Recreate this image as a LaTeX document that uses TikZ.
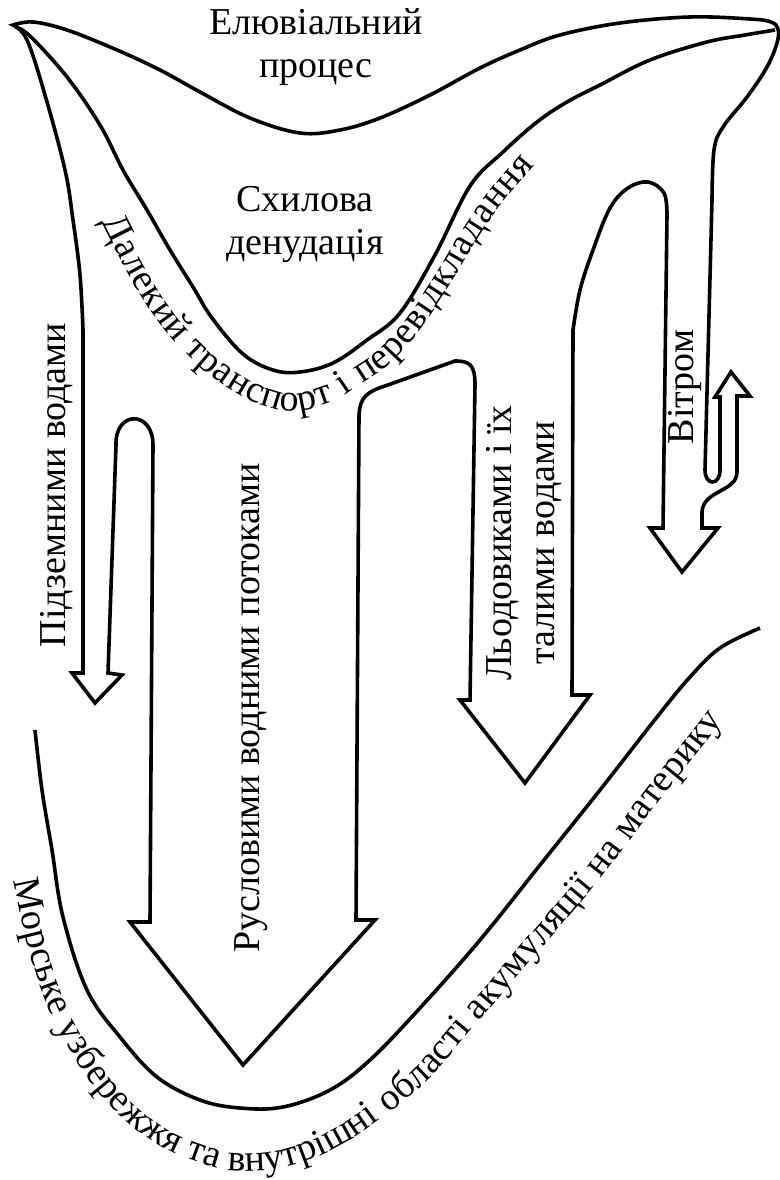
\documentclass[tikz,border=0pt]{standalone}
\usepackage{fontspec}
\setmainfont{Liberation Serif}
\usetikzlibrary{decorations.text}

\begin{document}
\begin{tikzpicture}[x=1pt, y=1pt, line width=3.6pt,
    lbl/.style={font=\fontsize{38}{43}\selectfont, inner sep=0pt, align=center},
    vlbl/.style={lbl, rotate=90},
    curvetext/.style 2 args={decorate, decoration={text along path, text align=left,
        text={|\fontsize{38}{43}\selectfont\kern#1|#2}}}]
  \useasboundingbox (0,0) rectangle (779,-1180);
  % outer outline with the arrows
  \draw plot[smooth, tension=.6] coordinates {(13,-25) (33,-22) (67,-30) (117,-50) (160,-70)
      (200,-92) (250,-118) (300,-133) (340,-130) (380,-118) (430,-95) (480,-68) (520,-50)
      (560,-35) (620,-23) (690,-17) (750,-19) (771,-22) (778,-29) (777,-43) (767,-67)
      (747,-97) (723,-127) (714,-150) (712,-200)}
    -- (705,-470) .. controls (705,-486) and (720,-486) .. (720,-470)
    -- (720,-397) -- (715,-397) -- (731,-372) -- (750,-396) -- (737,-396)
    -- (737,-472) .. controls (737,-492) and (703,-490) .. (702,-512)
    -- (702,-528) -- (718,-528) -- (682,-572) -- (650,-528) -- (663,-528)
    -- (667,-215) -- plot[smooth, tension=.6] coordinates {(667,-215) (664,-193) (648,-182)
      (628,-188) (610,-208) (593,-250) (580,-290) (573,-330)}
    -- (572,-695) -- (590,-695) -- (525,-783) -- (460,-700) -- (470,-700)
    -- (475,-385) .. controls (475,-365) and (470,-361) .. (455,-361)
    -- (385,-386) .. controls (366,-392) and (360,-398) .. (359,-415)
    -- (356,-920) -- (375,-920) -- (243,-1065) -- (130,-922) -- (150,-922)
    -- (153,-445) .. controls (153,-410) and (115,-410) .. (116,-445)
    -- (108,-673) -- (122,-675) -- (95,-703) -- (72,-673) -- (83,-673)
    -- (83,-330) -- plot[smooth, tension=.6] coordinates {(83,-330) (80,-275) (73,-220)
      (65,-170) (45,-95) (27,-40) (13,-25)} -- cycle;
  % inner slope line
  \draw plot[smooth, tension=.6] coordinates {(15,-27) (30,-36) (67,-77) (100,-125) (123,-170)
      (147,-210) (170,-250) (193,-287) (212,-318) (243,-354) (273,-370) (300,-372)
      (333,-363) (367,-340) (400,-313) (435,-255) (470,-186) (503,-152) (537,-122)
      (567,-102) (600,-85) (650,-60) (707,-42) (745,-35) (775,-30)};
  % coast line
  \draw plot[smooth, tension=.6] coordinates {(35,-730) (42,-790) (52,-850) (63,-917) (87,-990)
      (120,-1037) (157,-1077) (200,-1100) (240,-1108) (283,-1107) (330,-1090) (370,-1060)
      (420,-1008) (480,-940) (540,-865) (600,-790) (657,-717) (690,-677) (720,-648)
      (760,-628)};
  % labels
  \node[lbl] (eluv) at (316,-47) {Елювіальний\\процес};
  \node[lbl] (shyl) at (305,-225) {Схилова\\денудація};
  \node[vlbl] (pidz) at (57,-485) {Підземними водами};
  \node[vlbl] (rusl) at (251,-708) {Русловими водними потоками};
  \node[vlbl] (lodo) at (524,-543) {Льодовиками і їх\\талими водами};
  \node[vlbl] (vitr) at (685,-387) {Вітром};
  \path[curvetext={0.8pt}{Далекий транспорт і перевідкладання}]
    plot[smooth, tension=.6] coordinates {(101,-221) (125,-268) (150,-310) (175,-342)
      (210,-375) (250,-400) (290,-411) (330,-403) (360,-385) (392,-362) (420,-330)
      (450,-285) (480,-235) (505,-200) (532,-168) (560,-135) (590,-105)};
  \path[curvetext={0.25pt}{Морське узбережжя та внутрішні області акумуляції на материку}]
    plot[smooth, tension=.6] coordinates {(14,-880) (28,-945) (45,-1000) (70,-1050)
      (105,-1100) (150,-1140) (200,-1163) (240,-1171) (290,-1166) (340,-1146) (385,-1116)
      (430,-1078) (480,-1020) (540,-950) (600,-880) (660,-800) (700,-750) (727,-715)
      (750,-680) (770,-645)};
\end{tikzpicture}
\end{document}
